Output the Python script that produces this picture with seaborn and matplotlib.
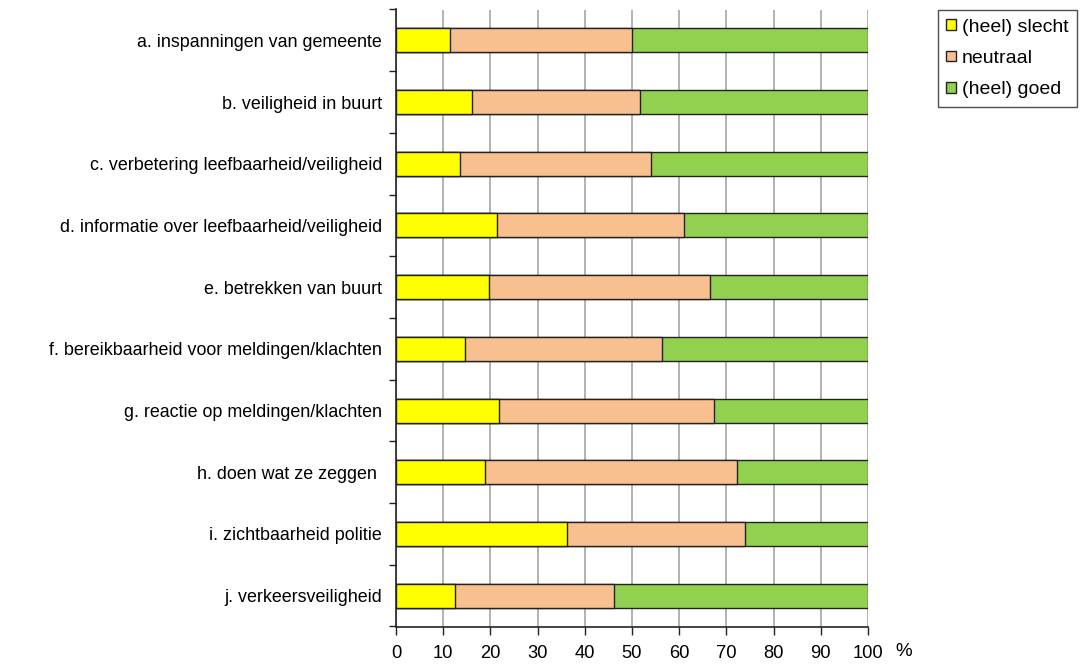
import matplotlib
matplotlib.use("Agg")
import matplotlib.pyplot as plt
from matplotlib.patches import Patch
from matplotlib.ticker import FixedLocator
import numpy as np
import pandas as pd
import seaborn as sns

# Survey statements (top to bottom)
categories = [
    "a. inspanningen van gemeente",
    "b. veiligheid in buurt",
    "c. verbetering leefbaarheid/veiligheid",
    "d. informatie over leefbaarheid/veiligheid",
    "e. betrekken van buurt",
    "f. bereikbaarheid voor meldingen/klachten",
    "g. reactie op meldingen/klachten",
    "h. doen wat ze zeggen ",
    "i. zichtbaarheid politie",
    "j. verkeersveiligheid",
]

# Percentages per answer group
slecht = [11.5, 16.2, 13.6, 21.4, 19.8, 14.6, 21.9, 18.8, 36.3, 12.5]
neutraal = [38.6, 35.5, 40.5, 39.7, 46.8, 41.8, 45.4, 53.5, 37.6, 33.7]
goed = [49.9, 48.3, 45.9, 38.9, 33.4, 43.6, 32.7, 27.7, 26.1, 53.8]

series_names = ["(heel) slecht", "neutraal", "(heel) goed"]
colors = ["#FFFF00", "#F9C08F", "#92D050"]

df = pd.DataFrame({"cat": categories, "slecht": slecht,
                   "neutraal": neutraal, "goed": goed})
df["c1"] = df["slecht"]
df["c2"] = df["slecht"] + df["neutraal"]
df["c3"] = df["c2"] + df["goed"]

sns.set_style("white")
plt.rcParams["font.family"] = ["Liberation Sans", "DejaVu Sans"]
plt.rcParams["text.color"] = "black"
plt.rcParams["xtick.color"] = "black"
plt.rcParams["ytick.color"] = "black"

fig = plt.figure(figsize=(10.85, 6.64), dpi=100)
ax = fig.add_axes([396 / 1085, 1 - 626.5 / 664, 472 / 1085, 617 / 664])

# Stacked bars: draw cumulative totals from the widest down
for col, color in zip(["c3", "c2", "c1"], colors[::-1]):
    sns.barplot(data=df, x=col, y="cat", orient="h", color=color,
                width=0.39, edgecolor="#222222", linewidth=1.0,
                saturation=1, ax=ax, zorder=3)

ax.set_xlim(0, 100)
ax.set_ylim(9.5, -0.5)
ax.set_xlabel("")
ax.set_ylabel("")

ax.set_xticks(np.arange(0, 101, 10))
ax.xaxis.grid(True, color="#A6A6A6", linewidth=1.2, zorder=0)
ax.yaxis.grid(False)
ax.set_axisbelow(True)

for s in ["top", "right"]:
    ax.spines[s].set_visible(False)
for s in ["left", "bottom"]:
    ax.spines[s].set_color("#222222")
    ax.spines[s].set_linewidth(1.2)

ax.tick_params(axis="x", which="major", direction="out", length=6,
               width=1, color="#222222", labelsize=13.2, pad=7,
               bottom=True)
ax.tick_params(axis="y", which="major", length=0, labelsize=12.9, pad=10)
ax.yaxis.set_minor_locator(FixedLocator(np.arange(-0.5, 10, 1)))
ax.tick_params(axis="y", which="minor", direction="out", length=5,
               width=1, color="#222222", left=True)

ax.text(1.075, -0.04, "%", transform=ax.transAxes, fontsize=13.5,
        ha="center", va="center")

handles = [Patch(facecolor=c, edgecolor="#222222", linewidth=1.0)
           for c in colors]
leg = fig.legend(handles, series_names, loc="upper right",
                 bbox_to_anchor=(1077 / 1085, 1 - 10 / 664),
                 frameon=True, fancybox=False, shadow=False,
                 fontsize=14, handlelength=0.48, handleheight=0.48,
                 handletextpad=0.3, labelspacing=0.73, borderpad=0.45,
                 borderaxespad=0)
leg.get_frame().set_edgecolor("#222222")
leg.get_frame().set_linewidth(1.0)

fig.savefig("out.png", dpi=100)
